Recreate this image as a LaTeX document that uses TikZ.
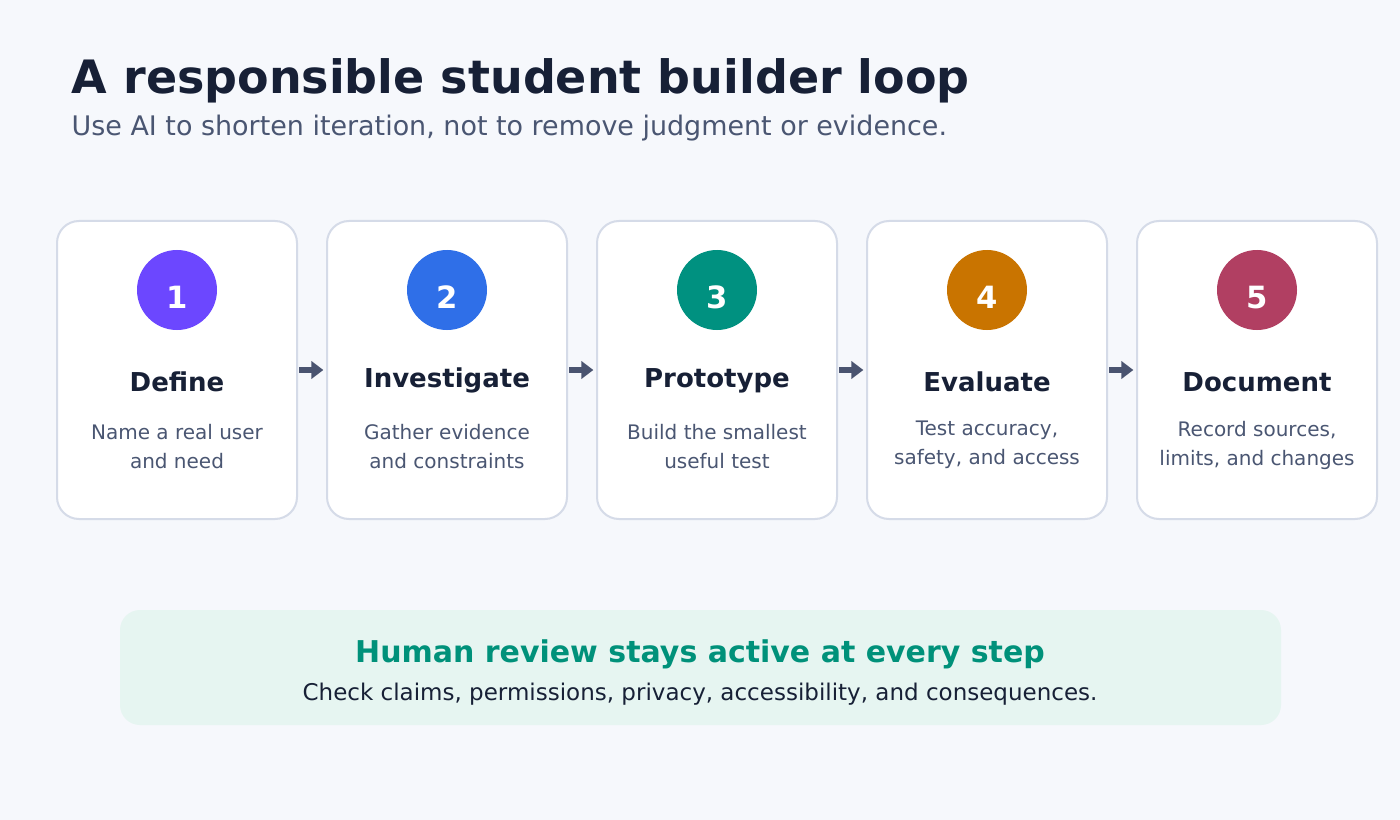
\documentclass[tikz,border=0pt]{standalone}
\usepackage{fontspec}
\setmainfont{DejaVu Sans}
\usepackage{xcolor}
\usetikzlibrary{arrows.meta,positioning}

\definecolor{bg}{HTML}{F6F8FC}
\definecolor{ink}{HTML}{172036}
\definecolor{muted}{HTML}{4A5672}
\definecolor{edge}{HTML}{D5DBE8}
\definecolor{arrowc}{HTML}{4A5470}
\definecolor{stepA}{HTML}{6C47FF}
\definecolor{stepB}{HTML}{2F6FE8}
\definecolor{stepC}{HTML}{009180}
\definecolor{stepD}{HTML}{C97400}
\definecolor{stepE}{HTML}{B13F62}
\definecolor{reviewbg}{HTML}{E6F5F1}
\definecolor{reviewfg}{HTML}{00917A}

\newcommand{\stepnum}[1]{\raisebox{-14pt}[0pt][0pt]{#1}}

\begin{document}
\begin{tikzpicture}[x=0.75pt,y=-0.75pt,
    card/.style={rectangle,rounded corners=16.5pt,draw=edge,line width=1.5pt,fill=white,
      minimum width=180pt,minimum height=223.5pt},
    badge/.style={circle,minimum size=60pt,inner sep=0pt,text=white,
      font=\fontsize{23}{23}\selectfont\bfseries},
    steptitle/.style={text=ink,font=\fontsize{19.5}{19.5}\selectfont\bfseries},
    stepbody/.style={text=muted,align=center,font=\fontsize{15}{21.75}\selectfont},
    flow/.style={-{Triangle[length=9pt,width=13pt]},line width=4pt,draw=arrowc,
      shorten <=1pt,shorten >=2pt}]

  \fill[bg] (0,0) rectangle (1400,820);
  \useasboundingbox (0,0) rectangle (1400,820);

  \node[anchor=base west,text=ink,font=\fontsize{34.5}{34.5}\selectfont\bfseries] (title) at (67,94) {A responsible student builder loop};
  \node[anchor=base west,text=muted,font=\fontsize{20.2}{20.2}\selectfont] (subtitle) at (67,136) {Use AI to shorten iteration, not to remove judgment or evidence.};

  % cards
  \node[card] (c1) at (177,370) {};
  \node[card,right=21pt of c1] (c2) {};
  \node[card,right=21pt of c2] (c3) {};
  \node[card,right=21pt of c3] (c4) {};
  \node[card,right=21pt of c4] (c5) {};

  \node[badge,fill=stepA] (b1) at (177,290) {\stepnum{1}};
  \node[badge,fill=stepB] (b2) at (447,290) {\stepnum{2}};
  \node[badge,fill=stepC] (b3) at (717,290) {\stepnum{3}};
  \node[badge,fill=stepD] (b4) at (987,290) {\stepnum{4}};
  \node[badge,fill=stepE] (b5) at (1257,290) {\stepnum{5}};

  \node[steptitle] (t1) at (177,382) {Define};
  \node[steptitle] (t2) at (447,380) {Investigate};
  \node[steptitle] (t3) at (717,381) {Prototype};
  \node[steptitle] (t4) at (987,382) {Evaluate};
  \node[steptitle] (t5) at (1257,382) {Document};

  \node[stepbody] (d1) at (177,447) {Name a real user\\and need};
  \node[stepbody] (d2) at (447,447) {Gather evidence\\and constraints};
  \node[stepbody] (d3) at (717,447) {Build the smallest\\useful test};
  \node[stepbody] (d4) at (987,445) {Test accuracy,\\safety, and access};
  \node[stepbody] (d5) at (1257,445) {Record sources,\\limits, and changes};

  \draw[flow] (c1) -- (c2);
  \draw[flow] (c2) -- (c3);
  \draw[flow] (c3) -- (c4);
  \draw[flow] (c4) -- (c5);

  % review band
  \node[rectangle,rounded corners=15pt,fill=reviewbg,minimum width=870.75pt,minimum height=86.25pt] (review) at (700.5,667.5) {};
  \node[text=reviewfg,font=\fontsize{22.5}{22.5}\selectfont\bfseries] (rtitle) at (700,654) {Human review stays active at every step};
  \node[text=ink,font=\fontsize{17.25}{17.25}\selectfont] (rbody) at (700,694) {Check claims, permissions, privacy, accessibility, and consequences.};
\end{tikzpicture}
\end{document}
